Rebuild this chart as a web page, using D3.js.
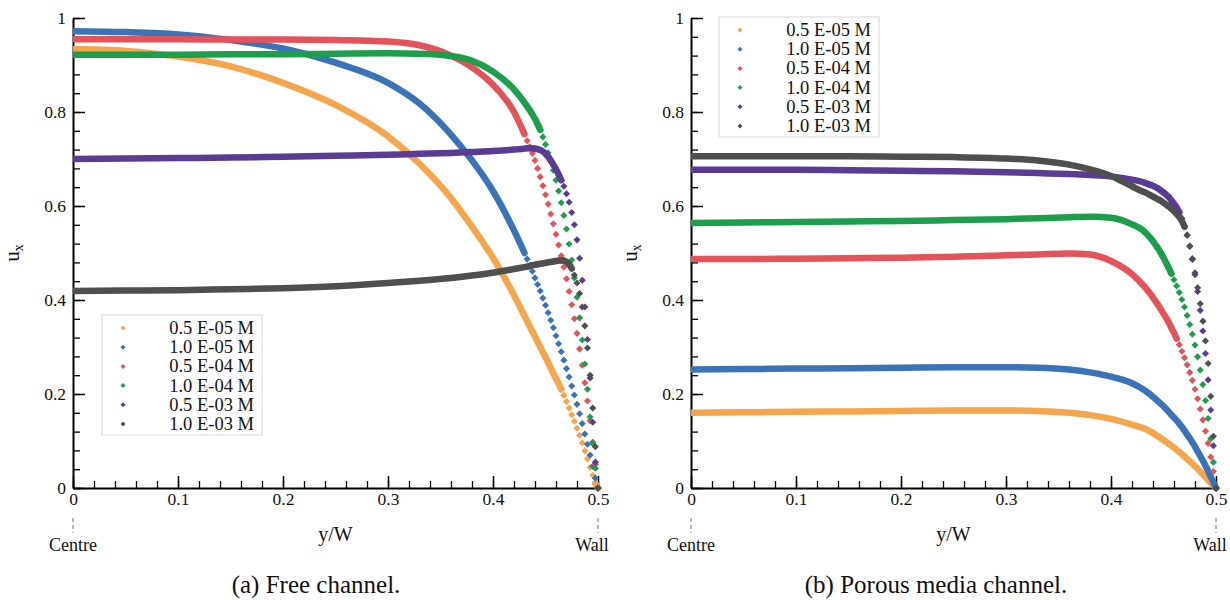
<!DOCTYPE html>
<html>
<head>
<meta charset="utf-8">
<script src="https://cdn.jsdelivr.net/npm/d3@7"></script>
<style>
  body { margin: 0; background: #fff; }
  text { font-family: "Liberation Serif", "Times New Roman", serif; fill: #111; }
</style>
</head>
<body>
<svg id="chart" width="1230" height="600"></svg>
<script>
// ---- data ----
// y/W positions: coarse in the channel core, one per wall-resolved mesh node near the wall
var yw = [0, 0.05, 0.10, 0.15, 0.20, 0.25, 0.30, 0.33, 0.36, 0.38, 0.40, 0.42,
  0.4300, 0.4325, 0.4350, 0.4375, 0.4400, 0.4425, 0.4450, 0.4475, 0.4500, 0.4525,
  0.4550, 0.4575, 0.4600, 0.4625, 0.4650, 0.4675, 0.4700, 0.4725, 0.4750, 0.4775,
  0.4800, 0.4825, 0.4850, 0.4875, 0.4900, 0.4925, 0.4950, 0.4975, 0.5000];

var seriesNames = ["0.5 E-05 M", "1.0 E-05 M", "0.5 E-04 M", "1.0 E-04 M", "0.5 E-03 M", "1.0 E-03 M"];
var seriesColors = ["#f5a54b", "#3b73b9", "#e4525a", "#1c9e4d", "#5a3c95", "#4f4f4f"];

// (a) free channel, u_x
var free05e5 = [0.934, 0.930, 0.918, 0.897, 0.862, 0.815, 0.748, 0.690, 0.617, 0.556, 0.490, 0.410,
  0.366, 0.355, 0.344, 0.333, 0.322, 0.311, 0.300, 0.289, 0.278, 0.267, 0.255, 0.244, 0.233, 0.222,
  0.210, 0.197, 0.184, 0.170, 0.156, 0.142, 0.127, 0.112, 0.096, 0.079, 0.062, 0.044, 0.027, 0.010, 0.0];
var free10e5 = [0.972, 0.970, 0.965, 0.953, 0.935, 0.905, 0.862, 0.818, 0.752, 0.697, 0.632, 0.548,
  0.500, 0.487, 0.474, 0.461, 0.447, 0.433, 0.419, 0.404, 0.389, 0.373, 0.357, 0.341, 0.324, 0.307,
  0.290, 0.272, 0.254, 0.236, 0.217, 0.198, 0.178, 0.158, 0.137, 0.115, 0.093, 0.070, 0.046, 0.021, 0.0];
var free05e4 = [0.955, 0.955, 0.955, 0.954, 0.954, 0.953, 0.950, 0.942, 0.920, 0.895, 0.858, 0.800,
  0.753, 0.739, 0.726, 0.712, 0.697, 0.680, 0.662, 0.643, 0.624, 0.604, 0.583, 0.562, 0.540, 0.517,
  0.494, 0.470, 0.445, 0.418, 0.390, 0.360, 0.329, 0.296, 0.261, 0.224, 0.185, 0.143, 0.098, 0.050, 0.0];
var free10e4 = [0.922, 0.922, 0.922, 0.923, 0.923, 0.924, 0.925, 0.924, 0.919, 0.909, 0.886, 0.848,
  0.820, 0.812, 0.804, 0.795, 0.785, 0.774, 0.762, 0.747, 0.731, 0.713, 0.695, 0.676, 0.655, 0.632,
  0.607, 0.580, 0.551, 0.519, 0.485, 0.447, 0.406, 0.362, 0.315, 0.264, 0.210, 0.151, 0.095, 0.042, 0.0];
var free05e3 = [0.700, 0.701, 0.702, 0.703, 0.705, 0.707, 0.709, 0.711, 0.713, 0.715, 0.717, 0.720,
  0.722, 0.723, 0.723, 0.723, 0.722, 0.721, 0.719, 0.716, 0.711, 0.705, 0.697, 0.688, 0.678, 0.667,
  0.655, 0.642, 0.626, 0.608, 0.586, 0.560, 0.528, 0.489, 0.442, 0.385, 0.316, 0.234, 0.140, 0.055, 0.0];
var free10e3 = [0.419, 0.420, 0.421, 0.423, 0.425, 0.429, 0.436, 0.441, 0.447, 0.452, 0.458, 0.466,
  0.470, 0.471, 0.472, 0.474, 0.475, 0.476, 0.477, 0.478, 0.479, 0.480, 0.481, 0.482, 0.483, 0.484,
  0.484, 0.484, 0.481, 0.476, 0.467, 0.453, 0.436, 0.414, 0.385, 0.345, 0.298, 0.240, 0.170, 0.088, 0.0];

// (b) porous media channel, u_x
var porous05e5 = [0.160, 0.161, 0.162, 0.163, 0.164, 0.165, 0.165, 0.164, 0.160, 0.155, 0.147, 0.135,
  0.128, 0.126, 0.123, 0.120, 0.117, 0.113, 0.110, 0.106, 0.102, 0.098, 0.094, 0.090, 0.086, 0.081,
  0.077, 0.072, 0.067, 0.062, 0.057, 0.052, 0.046, 0.041, 0.035, 0.029, 0.023, 0.017, 0.011, 0.005, 0.0];
var porous10e5 = [0.252, 0.253, 0.254, 0.255, 0.256, 0.257, 0.257, 0.256, 0.252, 0.246, 0.237, 0.223,
  0.211, 0.207, 0.203, 0.199, 0.194, 0.189, 0.184, 0.179, 0.174, 0.168, 0.162, 0.156, 0.150, 0.144,
  0.137, 0.130, 0.122, 0.114, 0.106, 0.097, 0.088, 0.078, 0.068, 0.058, 0.047, 0.036, 0.024, 0.012, 0.0];
var porous05e4 = [0.487, 0.487, 0.488, 0.489, 0.490, 0.492, 0.495, 0.497, 0.499, 0.497, 0.483, 0.455,
  0.433, 0.427, 0.420, 0.413, 0.405, 0.397, 0.389, 0.380, 0.371, 0.362, 0.352, 0.341, 0.330, 0.318,
  0.305, 0.291, 0.277, 0.262, 0.246, 0.229, 0.210, 0.190, 0.168, 0.145, 0.121, 0.095, 0.066, 0.035, 0.0];
var porous10e4 = [0.564, 0.565, 0.566, 0.567, 0.568, 0.570, 0.572, 0.574, 0.576, 0.577, 0.575, 0.561,
  0.549, 0.544, 0.538, 0.532, 0.525, 0.517, 0.509, 0.500, 0.490, 0.479, 0.468, 0.456, 0.443, 0.430,
  0.416, 0.401, 0.385, 0.367, 0.348, 0.327, 0.304, 0.279, 0.251, 0.220, 0.186, 0.148, 0.105, 0.055, 0.0];
var porous05e3 = [0.677, 0.677, 0.677, 0.676, 0.675, 0.674, 0.672, 0.670, 0.668, 0.666, 0.663, 0.656,
  0.651, 0.649, 0.647, 0.645, 0.643, 0.640, 0.637, 0.633, 0.629, 0.624, 0.619, 0.612, 0.605, 0.597,
  0.587, 0.574, 0.558, 0.538, 0.514, 0.486, 0.454, 0.418, 0.378, 0.334, 0.286, 0.230, 0.166, 0.090, 0.0];
var porous10e3 = [0.706, 0.706, 0.706, 0.706, 0.705, 0.704, 0.701, 0.697, 0.688, 0.678, 0.664, 0.642,
  0.631, 0.629, 0.626, 0.623, 0.620, 0.617, 0.614, 0.611, 0.607, 0.603, 0.599, 0.594, 0.589, 0.583,
  0.577, 0.568, 0.556, 0.538, 0.515, 0.488, 0.458, 0.426, 0.392, 0.355, 0.313, 0.265, 0.195, 0.110, 0.0];

// tick labels
var xTicks = [0, 0.1, 0.2, 0.3, 0.4, 0.5];
var xTickLabels = ["0", "0.1", "0.2", "0.3", "0.4", "0.5"];
var yTicks = [0, 0.2, 0.4, 0.6, 0.8, 1];
var yTickLabels = ["0", "0.2", "0.4", "0.6", "0.8", "1"];

var captions = ["(a) Free channel.", "(b) Porous media channel."];

// ---- drawing ----
var svg = d3.select("#chart");
svg.append("rect").attr("width", 1230).attr("height", 600).attr("fill", "#fff");

var plotTop = 18, plotBottom = 488;
var panels = [
  { left: 73, right: 598, series: [free05e5, free10e5, free05e4, free10e4, free05e3, free10e3],
    legend: { x: 102, y: 315 }, caption: captions[0], capX: 316 },
  { left: 691, right: 1216, series: [porous05e5, porous10e5, porous05e4, porous10e4, porous05e3, porous10e3],
    legend: { x: 719, y: 17 }, caption: captions[1], capX: 936 }
];

var diamond = d3.symbol().type(d3.symbolDiamond2).size(32);
var diamondSmall = d3.symbol().type(d3.symbolDiamond2).size(16);

panels.forEach(function (p, pi) {
  var x = d3.scaleLinear().domain([0, 0.5]).range([p.left, p.right]);
  var y = d3.scaleLinear().domain([0, 1]).range([plotBottom, plotTop]);
  var g = svg.append("g");

  // minor ticks
  g.append("g").attr("transform", "translate(0," + plotBottom + ")")
    .call(d3.axisBottom(x).tickValues(d3.range(0, 0.5001, 0.02)).tickSize(-7).tickFormat(""))
    .call(function (a) { a.select(".domain").remove(); a.selectAll("line").attr("stroke", "#000").attr("stroke-width", 1.3); });
  g.append("g").attr("transform", "translate(" + p.left + ",0)")
    .call(d3.axisLeft(y).tickValues(d3.range(0, 1.0001, 0.04)).tickSize(-7).tickFormat(""))
    .call(function (a) { a.select(".domain").remove(); a.selectAll("line").attr("stroke", "#000").attr("stroke-width", 1.3); });

  // major ticks + labels
  var xa = g.append("g").attr("transform", "translate(0," + plotBottom + ")")
    .call(d3.axisBottom(x).tickValues(xTicks).tickSize(-12).tickSizeOuter(0).tickPadding(5)
      .tickFormat(function (d, i) { return xTickLabels[i]; }));
  var ya = g.append("g").attr("transform", "translate(" + p.left + ",0)")
    .call(d3.axisLeft(y).tickValues(yTicks).tickSize(-12).tickSizeOuter(0).tickPadding(7)
      .tickFormat(function (d, i) { return yTickLabels[i]; }));
  [xa, ya].forEach(function (a) {
    a.select(".domain").attr("stroke", "#000").attr("stroke-width", 2);
    a.selectAll(".tick line").attr("stroke", "#000").attr("stroke-width", 1.5);
    a.selectAll(".tick text").attr("font-size", "17.5px").attr("fill", "#111")
      .style("font-family", "'Liberation Serif', 'Times New Roman', serif");
  });

  // centre / wall markers
  [0, 0.5].forEach(function (v) {
    g.append("line").attr("x1", x(v)).attr("x2", x(v)).attr("y1", 518).attr("y2", 533)
      .attr("stroke", "#777").attr("stroke-width", 1).attr("stroke-dasharray", "4,3");
  });
  g.append("text").attr("x", x(0)).attr("y", 551).attr("text-anchor", "middle")
    .attr("font-size", "18px").text("Centre");
  g.append("text").attr("x", x(0.5) - 6).attr("y", 551).attr("text-anchor", "middle")
    .attr("font-size", "18px").text("Wall");

  // axis titles
  g.append("text").attr("x", (p.left + p.right) / 2).attr("y", 541).attr("text-anchor", "middle")
    .attr("font-size", "20px").text("y/W");
  var ut = g.append("text").attr("transform", "translate(" + (p.left - 54) + "," + 253 + ") rotate(-90)")
    .attr("text-anchor", "middle").attr("font-size", "21px");
  ut.append("tspan").text("u");
  ut.append("tspan").attr("font-size", "14px").attr("dy", 4).text("x");

  // caption
  svg.append("text").attr("x", p.capX).attr("y", 593).attr("text-anchor", "middle")
    .attr("font-size", "25px").text(p.caption);

  // data
  var clipId = "clip" + pi;
  svg.append("clipPath").attr("id", clipId).append("rect")
    .attr("x", p.left).attr("y", plotTop - 6).attr("width", p.right - p.left + 5).attr("height", plotBottom - plotTop + 10);
  var dg = g.append("g").attr("clip-path", "url(#" + clipId + ")");
  var line = d3.line().x(function (d) { return x(d[0]); }).y(function (d) { return y(d[1]); })
    .curve(d3.curveMonotoneX);

  p.series.forEach(function (us, si) {
    var pts = yw.map(function (v, i) { return [v, us[i]]; });
    // overlapping markers read as a solid band; split where wall-resolved markers separate
    var runs = [], cur = [pts[0]];
    for (var i = 1; i < pts.length; i++) {
      var coarse = pts[i][0] - pts[i - 1][0] > 0.003;
      var step = Math.abs(y(pts[i][1]) - y(pts[i - 1][1]));
      if (coarse || step < 5.8) cur.push(pts[i]);
      else { runs.push(cur); cur = [pts[i]]; }
    }
    runs.push(cur);
    var sg = dg.append("g");
    runs.filter(function (r) { return r.length > 1; }).forEach(function (r) {
      sg.append("path").attr("d", line(r)).attr("fill", "none")
        .attr("stroke", seriesColors[si]).attr("stroke-width", 6.5).attr("stroke-linecap", "round");
    });
    // one marker per wall-resolved node
    var nodes = pts.filter(function (d, i) {
      return i > 0 && pts[i][0] - pts[i - 1][0] < 0.003;
    });
    sg.selectAll("path.mk").data(nodes).enter().append("path").attr("class", "mk")
      .attr("d", diamond)
      .attr("transform", function (d) { return "translate(" + x(d[0]) + "," + y(d[1]) + ")"; })
      .attr("fill", seriesColors[si]);
  });

  // legend
  var lg = g.append("g").attr("transform", "translate(" + p.legend.x + "," + p.legend.y + ")");
  lg.append("rect").attr("width", 160).attr("height", 120).attr("fill", "#fff")
    .attr("stroke", "#d8d8d8").attr("stroke-width", 1);
  seriesNames.forEach(function (n, i) {
    var row = lg.append("g").attr("transform", "translate(0," + (13 + i * 19.2) + ")");
    row.append("path").attr("d", diamondSmall).attr("transform", "translate(21,0)").attr("fill", seriesColors[i]);
    row.append("text").attr("x", 152).attr("y", 6).attr("text-anchor", "end")
      .attr("font-size", "18.5px").text(n);
  });
});
</script>
</body>
</html>
